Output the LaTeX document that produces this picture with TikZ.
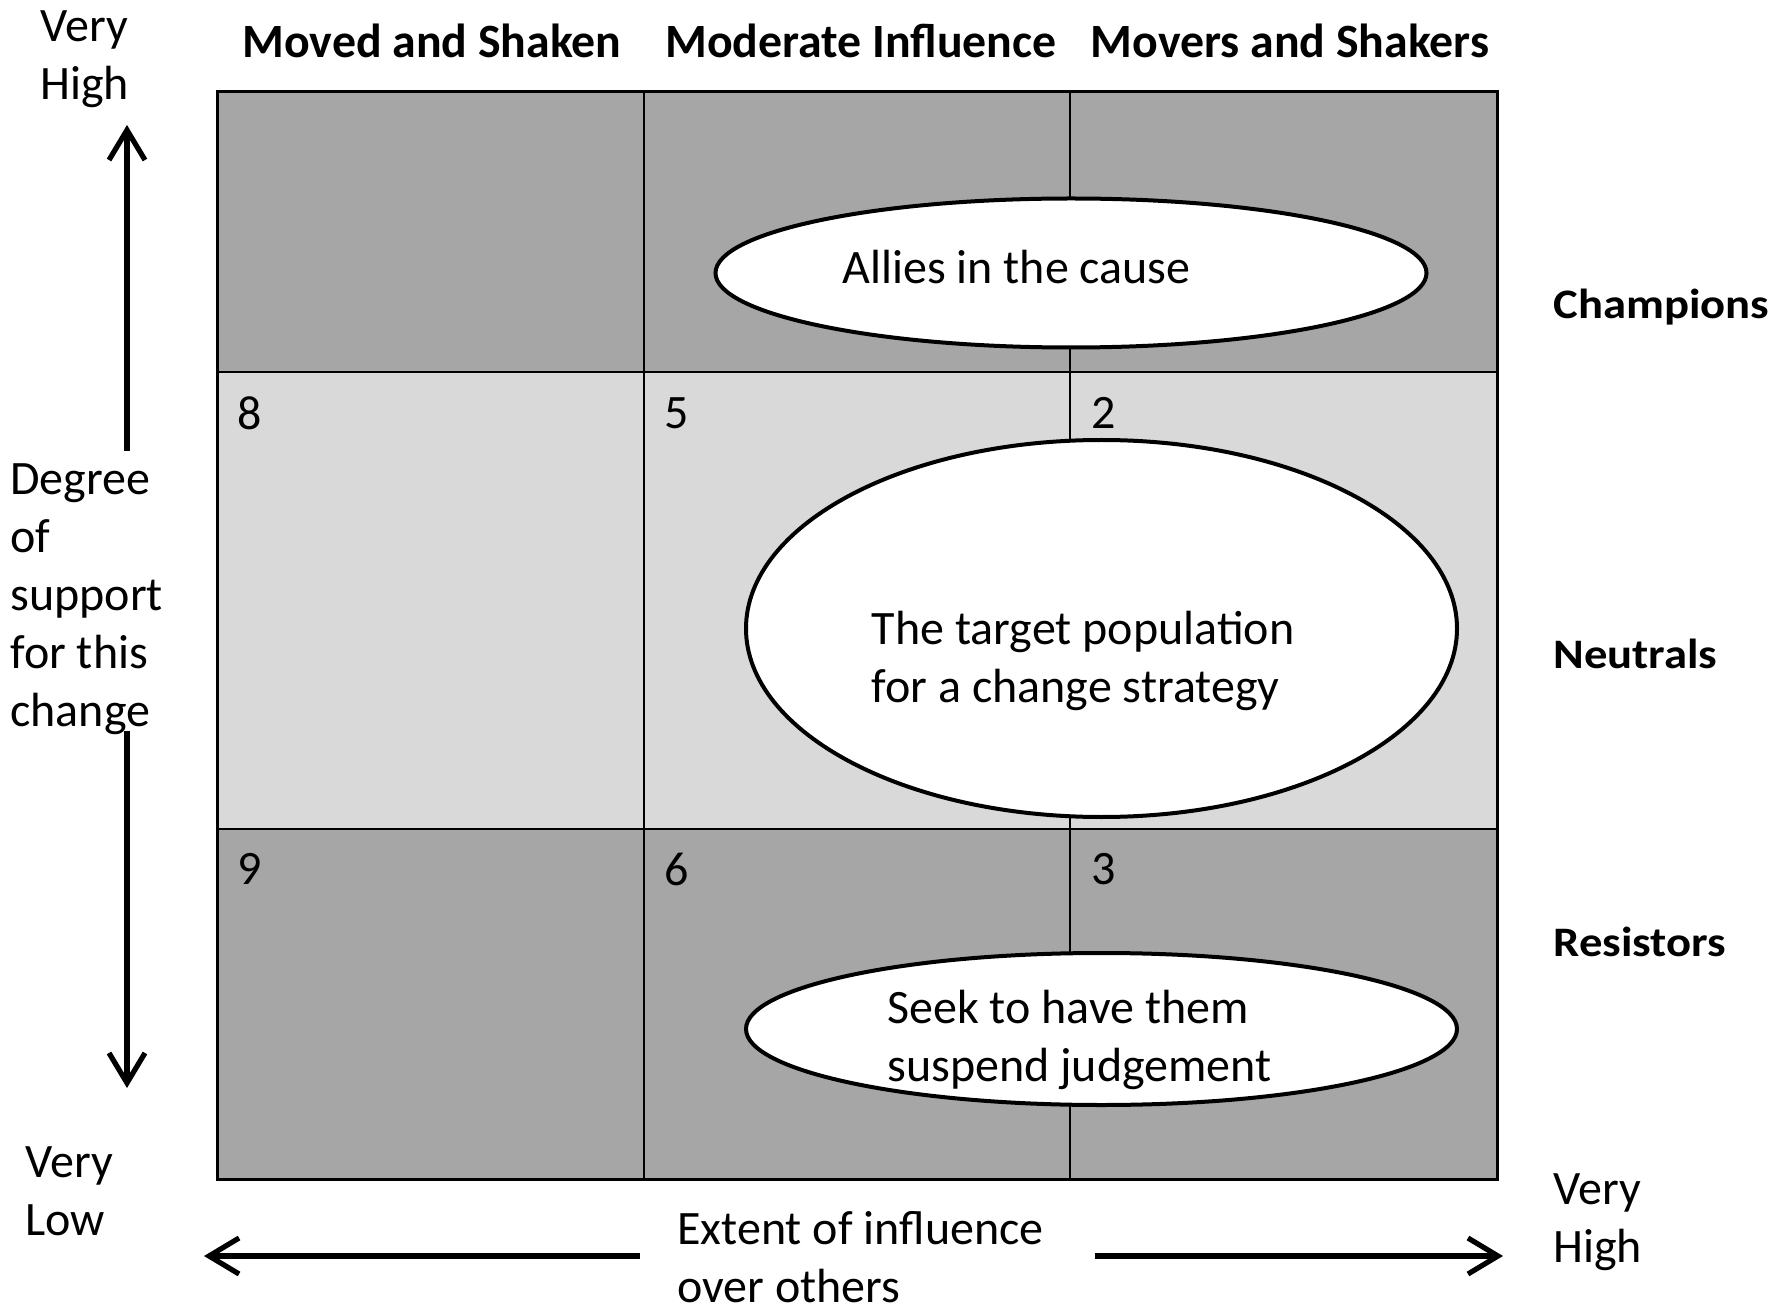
\documentclass[tikz,border=0pt]{standalone}
\usepackage{fontspec}
\setmainfont{Carlito}
\usetikzlibrary{shapes.geometric,arrows.meta}
\definecolor{darkcell}{HTML}{A6A6A6}
\definecolor{lightcell}{HTML}{D9D9D9}
\tikzset{
  txt/.style={font=\fontsize{24}{29}\selectfont, inner sep=0pt, align=left},
  head/.style={font=\bfseries\fontsize{23.9}{29}\selectfont, inner sep=0pt},
  rowlab/.style={font=\bfseries\fontsize{21}{25}\selectfont, inner sep=0pt, anchor=west},
  num/.style={font=\fontsize{24}{29}\selectfont, inner sep=0pt},
  oval/.style={ellipse, draw=black, fill=white, line width=2pt, inner sep=0pt},
  axisarrow/.style={line width=2.6pt, -{Straight Barb[length=15pt,width=18pt,line width=2.6pt]}},
  gridline/.style={line width=1pt, draw=black},
}
\begin{document}
\begin{tikzpicture}[x=0.5pt,y=-0.5pt]
\useasboundingbox (0,0) rectangle (1777,1304);
% cells
\fill[darkcell] (217.6,91.8) rectangle (1497.1,371.7);
\fill[lightcell] (217.6,371.7) rectangle (1497.1,828.5);
\fill[darkcell] (217.6,828.5) rectangle (1497.1,1179.8);
% grid lines
\draw[gridline] (643.7,91.8) -- (643.7,1179.8);
\draw[gridline] (1069.9,91.8) -- (1069.9,1179.8);
\draw[gridline] (217.6,371.7) -- (1497.1,371.7);
\draw[gridline] (217.6,828.5) -- (1497.1,828.5);
\draw[line width=1.6pt] (217.6,91.8) rectangle (1497.1,1179.8);
% ellipses
\node[oval, minimum width=355.5pt, minimum height=74.5pt] (allies) at (1071,273) {};
\node[oval, minimum width=355.5pt, minimum height=188.5pt] (target) at (1101.5,628.5) {};
\node[oval, minimum width=355.5pt, minimum height=76pt] (seek) at (1101.5,1029) {};
\node[txt, anchor=west] (alliesT) at (842,267) {Allies in the cause};
\node[txt, anchor=west] (targetT) at (871.5,661) {The target population\\for a change strategy};
\node[txt, anchor=west] (seekT) at (887,1040) {Seek to have them\\suspend judgement};
% numbers
\node[num, anchor=west] (n8) at (237,413) {8};
\node[num, anchor=west] (n5) at (664,413) {5};
\node[num, anchor=west] (n2) at (1091,413) {2};
\node[num, anchor=west] (n9) at (237,869) {9};
\node[num, anchor=west] (n6) at (664,869) {6};
\node[num, anchor=west] (n3) at (1091,869) {3};
% column headers
\node[head] (h1) at (432,41) {Moved and Shaken};
\node[head] (h2) at (861,41) {Moderate Influence};
\node[head] (h3) at (1290,41) {Movers and Shakers};
% row labels
\node[rowlab] (champ) at (1553,307) {\scalebox{1.11}[1]{Champions}};
\node[rowlab] (neut) at (1553,654) {\scalebox{1.11}[1]{Neutrals}};
\node[rowlab] (resist) at (1553,942) {\scalebox{1.11}[1]{Resistors}};
% left axis
\node[txt, anchor=west] (vhigh1) at (40,59) {Very\\High};
\node[txt, anchor=west] (degree) at (10,599) {Degree\\of\\support\\for this\\change};
\node[txt, anchor=west] (vlow) at (25,1191) {Very\\Low};
\coordinate (upStart) at (127,451);
\coordinate (upTip) at (127,125);
\coordinate (dnStart) at (127,731);
\coordinate (dnTip) at (127,1088);
\draw[axisarrow] (upStart) -- (upTip);
\draw[axisarrow] (dnStart) -- (dnTip);
% bottom axis
\node[txt, anchor=west] (extent) at (677,1257) {Extent of influence\\over others};
\node[txt, anchor=west] (vhigh2) at (1553,1222) {Very\\High};
\coordinate (lStart) at (640,1256);
\coordinate (lTip) at (204,1256);
\coordinate (rStart) at (1095,1256);
\coordinate (rTip) at (1503,1256);
\draw[axisarrow] (lStart) -- (lTip);
\draw[axisarrow] (rStart) -- (rTip);
\end{tikzpicture}
\end{document}
